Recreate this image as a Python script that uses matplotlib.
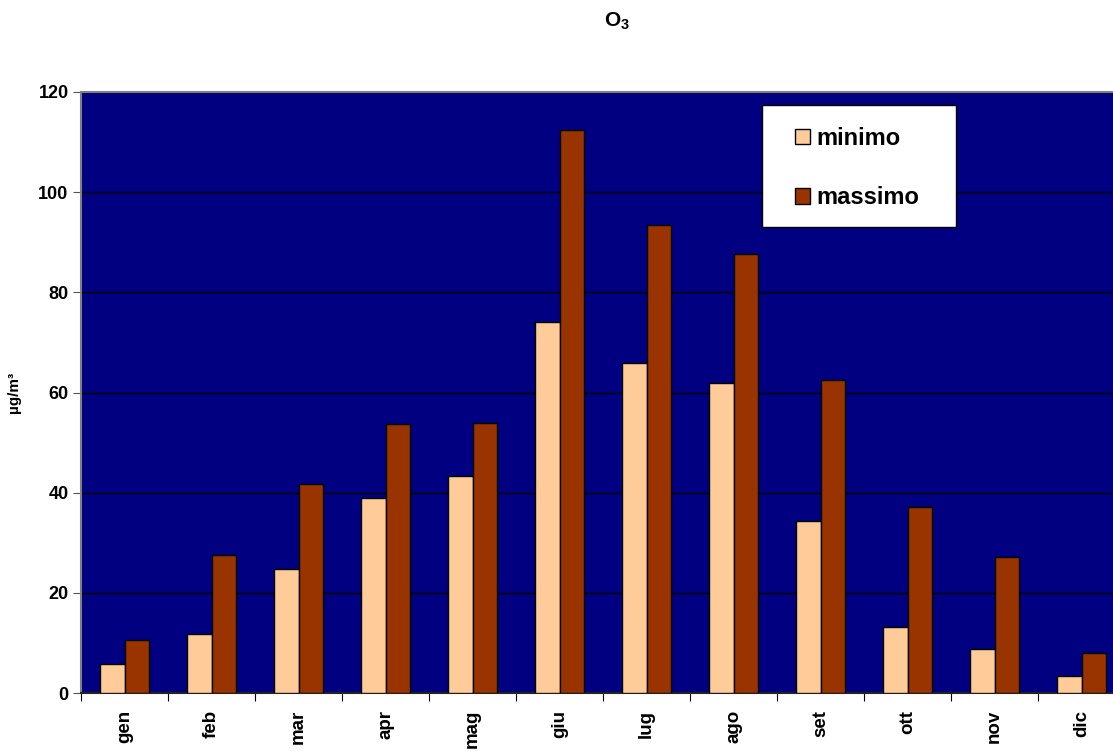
import numpy as np
import matplotlib
matplotlib.use('Agg')
import matplotlib.pyplot as plt
from matplotlib.patches import Rectangle

plt.rcParams['font.family'] = ['Liberation Sans', 'DejaVu Sans']
plt.rcParams['font.weight'] = 'bold'
plt.rcParams['mathtext.fontset'] = 'custom'
plt.rcParams['mathtext.bf'] = 'Liberation Sans:bold'
plt.rcParams['mathtext.rm'] = 'Liberation Sans:bold'

# Dati
months = ['gen', 'feb', 'mar', 'apr', 'mag', 'giu', 'lug', 'ago', 'set', 'ott', 'nov', 'dic']
minimo = [5.8, 11.7, 24.8, 39.0, 43.4, 74.0, 65.8, 61.8, 34.4, 13.2, 8.7, 3.3]
massimo = [10.5, 27.6, 41.8, 53.8, 54.0, 112.4, 93.4, 87.6, 62.4, 37.2, 27.2, 7.9]

fig = plt.figure(figsize=(11.13, 7.51), dpi=100, facecolor='white')
ax = fig.add_axes([0.0728, 0.0772, 0.938, 0.8003])
ax.set_facecolor('#000080')

x = np.arange(len(months))
w = 0.283
ax.bar(x - w/2, minimo, w, color='#FFCC99', edgecolor='black', linewidth=1.0, label='minimo', zorder=3)
ax.bar(x + w/2, massimo, w, color='#993300', edgecolor='black', linewidth=1.0, label='massimo', zorder=3)

ax.set_ylim(0, 120)
ax.set_xlim(-0.5, 11.5)
ax.set_yticks(range(0, 121, 20))
ax.yaxis.grid(True, color='black', linewidth=1.0, zorder=1)
ax.tick_params(axis='y', labelsize=13, length=6, direction='out', color='#555555', pad=3)

# tick ai bordi delle categorie, etichette al centro
ax.set_xticks(np.arange(-0.5, 12, 1))
ax.set_xticklabels([])
ax.tick_params(axis='x', which='major', length=6, direction='out', color='black')
ax.set_xticks(x, minor=True)
ax.set_xticklabels(months, minor=True, rotation=90, fontsize=13.5, fontweight='bold')
ax.tick_params(axis='x', which='minor', length=0, pad=12)

for s in ['left', 'top']:
    ax.spines[s].set_color('#808080')
    ax.spines[s].set_linewidth(1.5)
ax.spines['bottom'].set_color('#222222')
ax.spines['bottom'].set_linewidth(1.5)
ax.spines['right'].set_visible(False)

ax.set_ylabel('µg/m³', fontsize=11, fontweight='bold')
ax.yaxis.set_label_coords(-0.0575, 0.5)
fig.text(0.554, 0.972, r'$\mathbf{O}_\mathbf{3}$', ha='center', va='center', fontsize=15)

# riquadro legenda
ax.add_patch(Rectangle((0.652, 0.775), 0.186, 0.203, transform=ax.transAxes,
                       facecolor='white', edgecolor='black', linewidth=1.0, zorder=4))
leg = ax.legend(loc='upper left', bbox_to_anchor=(0.684, 0.942),
                fontsize=17, frameon=False, handlelength=0.65, handleheight=0.65,
                handletextpad=0.25, labelspacing=1.55, borderpad=0, borderaxespad=0)
leg.set_zorder(5)
for t in leg.get_texts():
    t.set_fontweight('bold')

fig.savefig('out.png', dpi=100)
